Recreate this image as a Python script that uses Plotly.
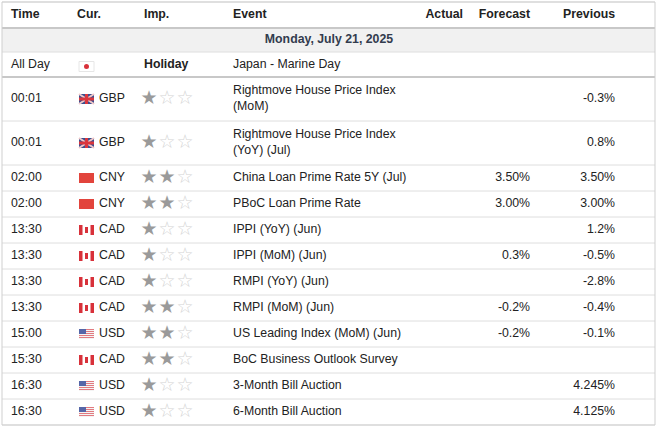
import plotly.graph_objects as go

# data
times = ["00:01", "00:01", "02:00", "02:00", "13:30", "13:30", "13:30", "13:30",
         "15:00", "15:30", "16:30", "16:30"]
currencies = ["GBP", "GBP", "CNY", "CNY", "CAD", "CAD", "CAD", "CAD", "USD", "CAD", "USD", "USD"]
importance = [1, 1, 2, 2, 1, 1, 1, 2, 2, 2, 1, 1]
events = ["Rightmove House Price Index<br>(MoM)", "Rightmove House Price Index<br>(YoY) (Jul)",
          "China Loan Prime Rate 5Y (Jul)", "PBoC Loan Prime Rate", "IPPI (YoY) (Jun)",
          "IPPI (MoM) (Jun)", "RMPI (YoY) (Jun)", "RMPI (MoM) (Jun)",
          "US Leading Index (MoM) (Jun)", "BoC Business Outlook Survey",
          "3-Month Bill Auction", "6-Month Bill Auction"]
actual = [""] * 12
forecast = ["", "", "3.50%", "3.00%", "", "0.3%", "", "-0.2%", "-0.2%", "", "", ""]
previous = ["-0.3%", "0.8%", "3.50%", "3.00%", "1.2%", "-0.5%", "-2.8%", "-0.4%",
            "-0.1%", "", "4.245%", "4.125%"]
date_label = "Monday, July 21, 2025"
holiday = ["All Day", "Holiday", "Japan - Marine Day"]
headers = ["Time", "Cur.", "Imp.", "Event", "Actual", "Forecast", "Previous"]

FONT = "Liberation Sans, Arial, sans-serif"
FS = 12.3
W, H = 658, 427
L, R = 2, 655

# row geometry
heights = [26, 24, 25] + [44 if "<br>" in e else 26 for e in events]
bounds = [2]
for h in heights:
    bounds.append(bounds[-1] + h)
centers = [(bounds[i] + bounds[i + 1]) / 2 for i in range(len(heights))]
hdr_y, date_y, hol_y = centers[0], centers[1], centers[2]
ev_y = centers[3:]

fig = go.Figure()
shapes = []

# backgrounds and lines
shapes.append(dict(type="rect", x0=L, x1=R, y0=bounds[1], y1=bounds[2],
                   fillcolor="#f1f1f1", line_width=0, layer="below"))
for i, b in enumerate(bounds):
    w = 2 if i in (1, 3) else 1
    c = "#c8c8c8" if i in (1, 3) else "#dedede"
    shapes.append(dict(type="line", x0=L, x1=R, y0=b, y1=b, line=dict(color=c, width=w)))
shapes.append(dict(type="rect", x0=L, x1=R, y0=bounds[0], y1=bounds[-1],
                   line=dict(color="#cfcfcf", width=1), fillcolor="rgba(0,0,0,0)"))


def flag(cur, y):
    x0, x1, y0, y1 = 79, 94, y - 5, y + 5
    out = []
    if cur == "GBP":
        out.append(dict(type="rect", x0=x0, x1=x1, y0=y0, y1=y1, fillcolor="#3b4f8f", line_width=0))
        out.append(dict(type="line", x0=x0, x1=x1, y0=y0, y1=y1, line=dict(color="#f0c8c8", width=2)))
        out.append(dict(type="line", x0=x0, x1=x1, y0=y1, y1=y0, line=dict(color="#f0c8c8", width=2)))
        out.append(dict(type="line", x0=x0, x1=x1, y0=y, y1=y, line=dict(color="#d9363e", width=3)))
        out.append(dict(type="line", x0=(x0 + x1) / 2, x1=(x0 + x1) / 2, y0=y0, y1=y1,
                        line=dict(color="#d9363e", width=3)))
    elif cur == "CNY":
        out.append(dict(type="rect", x0=x0, x1=x1, y0=y0, y1=y1, fillcolor="#e2443c", line_width=0))
    elif cur == "CAD":
        out.append(dict(type="rect", x0=x0, x1=x1, y0=y0, y1=y1, fillcolor="white", line_width=0))
        out.append(dict(type="rect", x0=x0, x1=x0 + 3.5, y0=y0, y1=y1, fillcolor="#d8313a", line_width=0))
        out.append(dict(type="rect", x0=x1 - 3.5, x1=x1, y0=y0, y1=y1, fillcolor="#d8313a", line_width=0))
        out.append(dict(type="rect", x0=85, x1=88, y0=y - 3, y1=y + 3, fillcolor="#d8313a", line_width=0))
    elif cur == "USD":
        for k in range(5):
            out.append(dict(type="rect", x0=x0, x1=x1, y0=y0 + 2 * k, y1=y0 + 2 * k + 1,
                            fillcolor="#e27a80", line_width=0))
            out.append(dict(type="rect", x0=x0, x1=x1, y0=y0 + 2 * k + 1, y1=y0 + 2 * k + 2,
                            fillcolor="#f4f4f4", line_width=0))
        out.append(dict(type="rect", x0=x0, x1=x0 + 7, y0=y0, y1=y0 + 5, fillcolor="#5566a8", line_width=0))
    elif cur == "JPY":
        out.append(dict(type="rect", x0=x0, x1=x1, y0=y0, y1=y1, fillcolor="white",
                        line=dict(color="#e6e6e6", width=1)))
        out.append(dict(type="circle", x0=84, x1=89, y0=y - 2.5, y1=y + 2.5, fillcolor="#d8313a", line_width=0))
    return out


shapes += flag("JPY", hol_y + 2)
for c, y in zip(currencies, ev_y):
    shapes += flag(c, y)


def txt(x, y, t, pos="middle right", color="#222", size=FS, bold=False):
    fig.add_trace(go.Scatter(
        x=x if isinstance(x, list) else [x] * len(y), y=y, mode="text", text=t,
        textposition=pos, hoverinfo="skip",
        textfont=dict(family=FONT, size=size, color=color, weight="bold" if bold else "normal")))


# header
txt([11, 77, 144, 233], [hdr_y] * 4, headers[:4], bold=True)
txt([463, 530, 615], [hdr_y] * 3, headers[4:], pos="middle left", bold=True)
txt([329], [date_y], [date_label], pos="middle center", color="#333c4e", bold=True)
txt([144], [hol_y], [holiday[1]], bold=True)
txt([11, 233], [hol_y] * 2, [holiday[0], holiday[2]])

# events
txt(11, ev_y, times)
txt(99, ev_y, currencies)
txt(233, ev_y, events)
txt(463, ev_y, actual, pos="middle left")
txt(530, ev_y, forecast, pos="middle left")
txt(615, ev_y, previous, pos="middle left")

# stars
sx, sy, sc = [], [], []
for imp, y in zip(importance, ev_y):
    for k in range(3):
        sx.append(149 + 18 * k)
        sy.append(y)
        sc.append("#9a9a9a" if k < imp else "#d4d4d4")
fig.add_trace(go.Scatter(x=sx, y=sy, mode="text", text=["★" if c == "#9a9a9a" else "☆" for c in sc],
                         textposition="middle center", hoverinfo="skip",
                         textfont=dict(family="DejaVu Sans", size=19, color=sc)))

fig.update_layout(
    width=W, height=H, margin=dict(l=0, r=0, t=0, b=0), showlegend=False,
    paper_bgcolor="white", plot_bgcolor="white", shapes=shapes,
    xaxis=dict(range=[0, W], visible=False, fixedrange=True),
    yaxis=dict(range=[H, 0], visible=False, fixedrange=True),
)
fig.write_html("out.html", config={"displayModeBar": False},
               post_script="document.body.style.margin='0';document.body.style.overflow='hidden';")
